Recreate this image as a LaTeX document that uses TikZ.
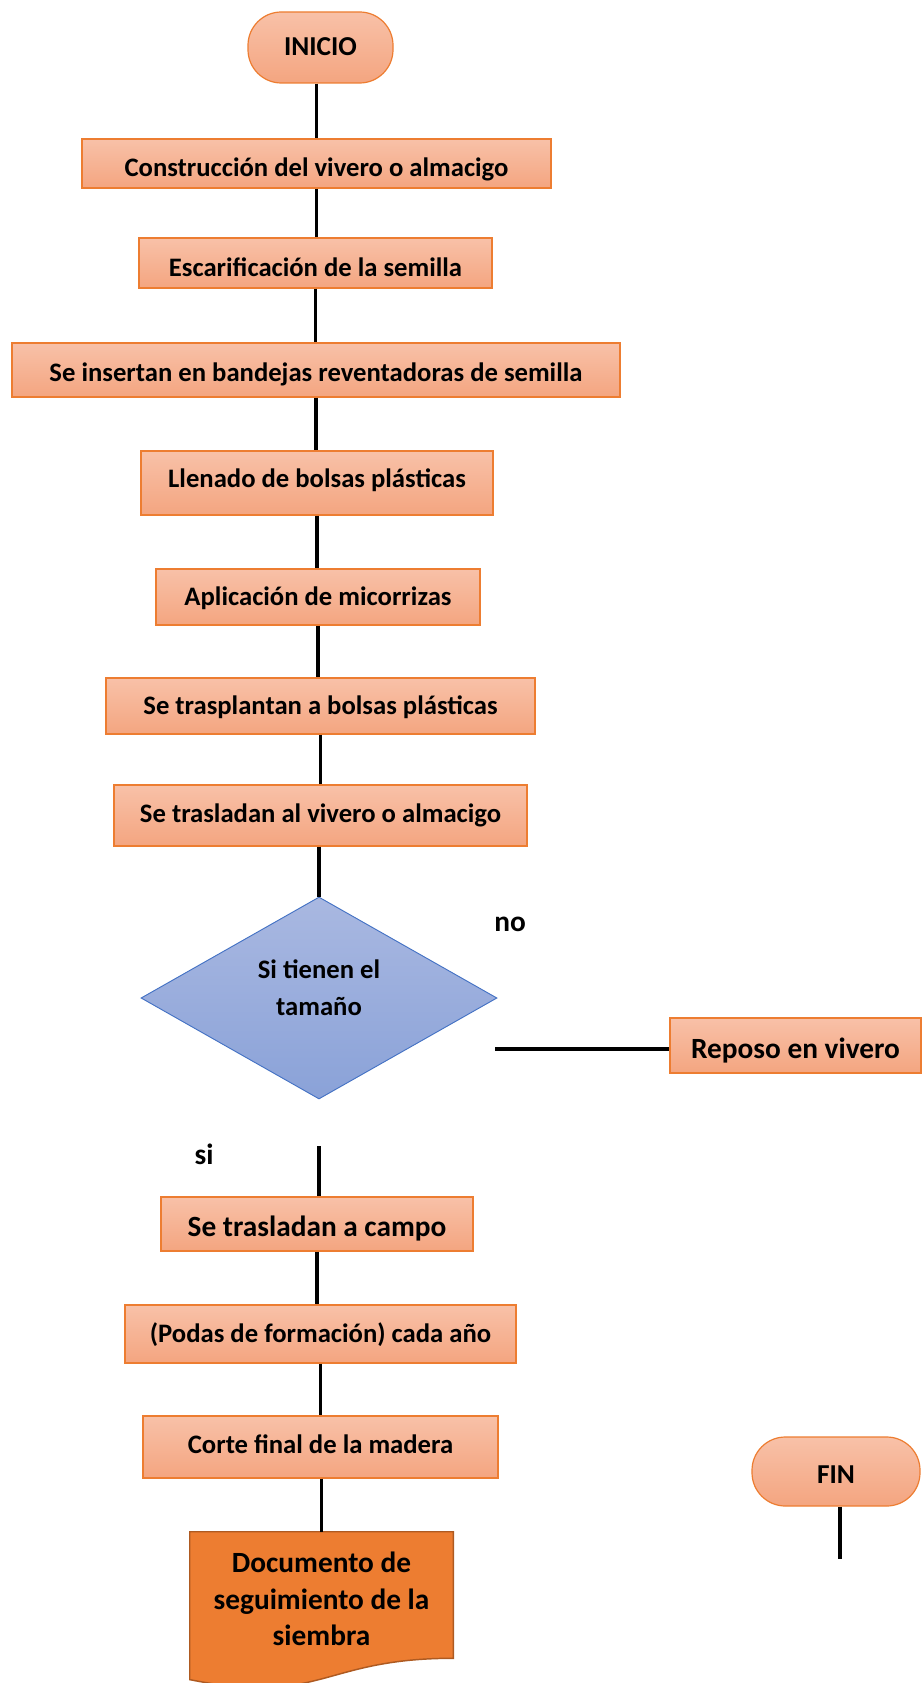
\documentclass[tikz,border=0pt]{standalone}
\usepackage{fontspec}
\setmainfont{Carlito}
\usetikzlibrary{shapes.geometric}

\definecolor{boxtop}{HTML}{F8C1A8}
\definecolor{boxbot}{HTML}{F4A580}
\definecolor{boxline}{HTML}{ED7D31}
\definecolor{dectop}{HTML}{A9B8E1}
\definecolor{decbot}{HTML}{8AA2D8}
\definecolor{decline}{HTML}{4472C4}
\definecolor{docfill}{HTML}{ED7D31}
\definecolor{docline}{HTML}{AE5A21}

\begin{document}
\begin{tikzpicture}[
    x=0.75pt, y=-0.75pt,
    paso/.style={draw=boxline, line width=0.9pt, top color=boxtop, bottom color=boxbot,
      inner sep=0pt, align=center, text height=15pt, text depth=4pt,
      font=\bfseries\fontsize{20}{24}\selectfont},
    grande/.style={font=\bfseries\fontsize{22}{26}\selectfont, text height=16.5pt, text depth=4.4pt},
    terminal/.style={paso, rounded corners=25pt, font=\bfseries\fontsize{20.5}{24}\selectfont},
    decision/.style={diamond, draw=decline, line width=0.7pt, top color=dectop,
      bottom color=decbot, inner sep=0pt, align=center,
      font=\bfseries\fontsize{20}{27.4}\selectfont},
    etiqueta/.style={font=\bfseries\fontsize{22}{26}\selectfont, inner sep=0pt},
    link/.style={line width=2.6pt, black}
  ]
  \useasboundingbox (0,0) rectangle (921,1683);

  % main column at explicit coords
  \node[terminal, minimum width=108.75pt, minimum height=53.25pt, text height=16.6pt] (ini) at (320.5,47.5) {INICIO};
  \node[paso, minimum width=351.75pt, minimum height=36.75pt, text height=23pt] (cons) at (316.5,163.5) {Construcción del vivero o almacigo};
  \node[paso, minimum width=264.75pt, minimum height=37.5pt, text height=24.7pt] (esca) at (315.5,263) {Escarificación de la semilla};
  \node[paso, minimum width=456pt, minimum height=40.5pt, text height=21.4pt] (band) at (316,370) {Se insertan en bandejas reventadoras de semilla};
  \node[paso, minimum width=264pt, minimum height=48pt, text height=10.2pt] (llen) at (317,483) {Llenado de bolsas plásticas};
  \node[paso, minimum width=243pt, minimum height=42pt, text height=16.6pt] (mico) at (318,597) {Aplicación de micorrizas};
  \node[paso, minimum width=321.75pt, minimum height=42pt, text height=16.6pt] (tras) at (320.5,706) {Se trasplantan a bolsas plásticas};
  \node[paso, minimum width=309.75pt, minimum height=45.75pt] (vive) at (320.5,815.5) {Se trasladan al vivero o almacigo};
  \node[decision, minimum width=267pt, minimum height=151.5pt] (tam) at (319,998) {Si tienen el\\tamaño\\[-11.5pt]};

  % side branch
  \node[etiqueta] (no) at (510,924) {no};
  \node[paso, grande, minimum width=188.25pt, minimum height=41.25pt, text height=24.5pt] (repo) at (795.5,1045.5) {Reposo en vivero};
  \coordinate (noini) at (495,1049);

  % lower column
  \node[etiqueta] (si) at (204,1154) {si};
  \coordinate (siini) at (319,1146);
  \node[paso, grande, minimum width=234pt, minimum height=40.5pt, text height=22.9pt] (camp) at (317,1224) {Se trasladan a campo};
  \node[paso, minimum width=293.25pt, minimum height=43.5pt, text height=16.6pt] (poda) at (320.5,1334) {(Podas de formación) cada año};
  \node[paso, minimum width=266.25pt, minimum height=46.5pt, text height=13.4pt] (cort) at (320.5,1447) {Corte final de la madera};
  \node[minimum width=197.25pt, minimum height=94.5pt, inner sep=0pt] (doc) at (321.5,1595) {};
  \node[terminal, minimum width=126pt, minimum height=51.75pt, text height=21.4pt] (fin) at (836,1471.5) {FIN};
  \coordinate (finfin) at (840,1559);

  % document shape
  \draw[draw=docline, line width=1.1pt, fill=docfill]
    (doc.north west) -- (doc.north east) -- (doc.south east)
    .. controls (doc.south) and ([yshift=-36pt]doc.south) .. ([yshift=-16pt]doc.south west) -- cycle;
  \node[align=center, font=\bfseries\fontsize{22}{27.4}\selectfont] (doctxt) at ([yshift=-3pt]doc.center)
    {Documento de\\seguimiento de la\\siembra};

  % connectors
  \draw[link] (ini.south -| cons) -- (cons);
  \draw[link] (cons.south) -- (cons.south |- esca.north);
  \draw[link] (esca.south) -- (esca.south |- band.north);
  \draw[link] (band.south) -- (band.south |- llen.north);
  \draw[link] (llen.south) -- (llen.south |- mico.north);
  \draw[link] (mico.south) -- (mico.south |- tras.north);
  \draw[link] (tras.south) -- (tras.south |- vive.north);
  \draw[link] (vive.south -| tam) -- (tam.north);
  \draw[link] (noini) -- (noini -| repo.west);
  \draw[link] (siini) -- (siini |- camp.north);
  \draw[link] (camp.south) -- (camp.south |- poda.north);
  \draw[link] (poda.south) -- (poda.south |- cort.north);
  \draw[link] (cort.south -| doc) -- (doc.north);
  \draw[link] (finfin |- fin.south) -- (finfin);

\end{tikzpicture}
\end{document}
